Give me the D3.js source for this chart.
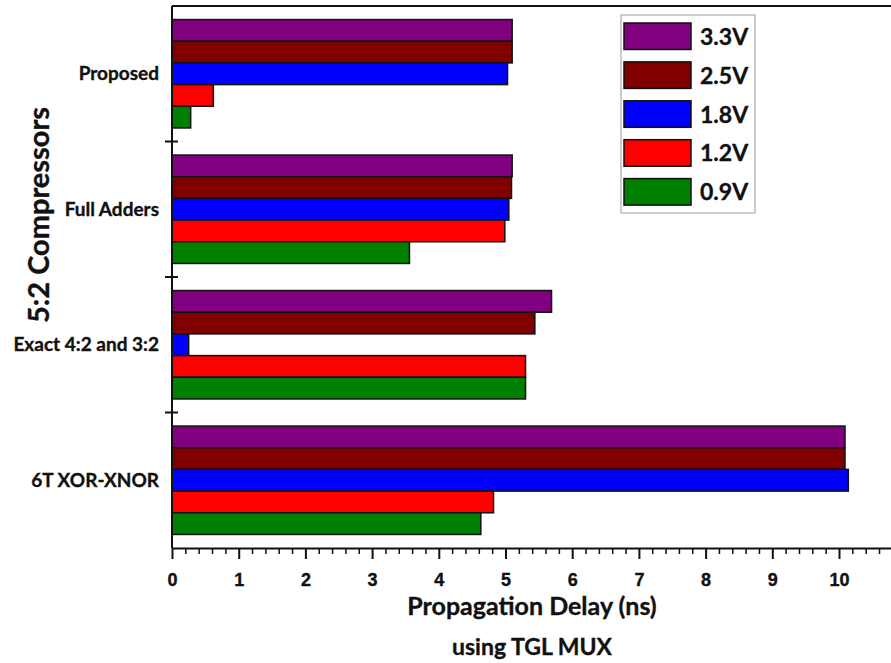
<!DOCTYPE html>
<html>
<head>
<meta charset="utf-8">
<script src="https://cdn.jsdelivr.net/npm/d3@7"></script>
<style>
  body { margin: 0; background: #fff; }
  svg { display: block; font-family: Lato, "Open Sans", sans-serif; font-weight: bold; }
  text { stroke: #111; stroke-width: 0.35px; }
</style>
</head>
<body>
<script>
const width = 891;
const height = 663;

const categories = ['Proposed', 'Full Adders', 'Exact 4:2 and 3:2', '6T XOR-XNOR'];
const voltages = ['3.3V', '2.5V', '1.8V', '1.2V', '0.9V'];
const colors = ['#800080', '#800000', '#0000ff', '#ff0000', '#008000'];

// delay in ns, one array per voltage, in category order
const v33 = [5.10, 5.10, 5.69, 10.09];
const v25 = [5.10, 5.09, 5.44, 10.09];
const v18 = [5.03, 5.05, 0.25, 10.14];
const v12 = [0.62, 4.99, 5.30, 4.82];
const v09 = [0.28, 3.56, 5.30, 4.63];
const series = [v33, v25, v18, v12, v09];

const xTicks = [0, 1, 2, 3, 4, 5, 6, 7, 8, 9, 10];

const plotLeft = 172;
const plotTop = 6;
const plotBottom = 548;

function init() {
  const svg = d3.select('body')
    .append('svg')
    .attr('width', width)
    .attr('height', height);

  const x = d3.scaleLinear()
    .domain([0, 11])
    .range([plotLeft, plotLeft + 11 * 66.7]);

  const y = d3.scaleBand()
    .domain(categories)
    .range([plotTop, plotBottom])
    .paddingInner(0.2)
    .paddingOuter(0.1);

  const yInner = d3.scaleBand()
    .domain(voltages)
    .range([0, y.bandwidth()]);

  // bars
  const groups = svg.append('g')
    .selectAll('g')
    .data(categories)
    .join('g')
    .attr('transform', d => `translate(0, ${y(d)})`);

  groups.selectAll('rect')
    .data((c, ci) => voltages.map((v, vi) => ({ v, vi, value: series[vi][ci] })))
    .join('rect')
    .attr('x', x(0))
    .attr('y', d => yInner(d.v))
    .attr('width', d => x(d.value) - x(0))
    .attr('height', yInner.bandwidth())
    .attr('fill', d => colors[d.vi])
    .attr('stroke', '#111')
    .attr('stroke-width', 1.5);

  // top frame line
  svg.append('line')
    .attr('x1', plotLeft)
    .attr('x2', width)
    .attr('y1', plotTop)
    .attr('y2', plotTop)
    .attr('stroke', '#111')
    .attr('stroke-width', 2);

  // x axis: minor ticks then major
  const minor = d3.range(0, 10.81, 0.2).filter(t => Math.abs(t - Math.round(t)) > 1e-6);
  svg.append('g')
    .attr('transform', `translate(0, ${plotBottom})`)
    .call(d3.axisBottom(x).tickValues(minor).tickSize(6).tickFormat(''))
    .call(g => g.select('.domain').remove())
    .selectAll('line').attr('stroke', '#111').attr('stroke-width', 1.5);

  const xAxis = svg.append('g')
    .attr('transform', `translate(0, ${plotBottom})`)
    .call(d3.axisBottom(x).tickValues(xTicks).tickSize(11).tickSizeOuter(0).tickFormat(d3.format('d')));
  xAxis.select('.domain').attr('stroke', '#111').attr('stroke-width', 2);
  xAxis.selectAll('.tick line').attr('stroke', '#111').attr('stroke-width', 2);
  xAxis.selectAll('text')
    .attr('y', 25)
    .attr('fill', '#111')
    .style('font-size', '18px')
    .style('font-weight', 'bold');

  // y axis with ticks at band boundaries
  const yAxis = svg.append('g')
    .attr('transform', `translate(${plotLeft}, 0)`);
  yAxis.append('line')
    .attr('x1', 0).attr('x2', 0)
    .attr('y1', plotTop).attr('y2', plotBottom)
    .attr('stroke', '#111')
    .attr('stroke-width', 2);

  const step = y.step();
  const bounds = categories.slice(1).map(c => y(c) - step * y.paddingInner() / 2);
  yAxis.selectAll('.ytick')
    .data(bounds)
    .join('line')
    .attr('x1', -7).attr('x2', 6)
    .attr('y1', d => d).attr('y2', d => d)
    .attr('stroke', '#111')
    .attr('stroke-width', 2);

  yAxis.selectAll('.ylabel')
    .data(categories)
    .join('text')
    .attr('x', -13)
    .attr('y', d => y(d) + y.bandwidth() / 2)
    .attr('dy', '0.35em')
    .attr('text-anchor', 'end')
    .attr('fill', '#111')
    .style('font-size', '19px')
    .text(d => d);

  // titles
  svg.append('text')
    .attr('x', 532)
    .attr('y', 615)
    .attr('text-anchor', 'middle')
    .attr('fill', '#111')
    .style('font-size', '25px')
    .text('Propagation Delay (ns)');

  svg.append('text')
    .attr('x', 532)
    .attr('y', 655)
    .attr('text-anchor', 'middle')
    .attr('fill', '#111')
    .style('font-size', '23px')
    .text('using TGL MUX');

  svg.append('text')
    .attr('transform', 'translate(49, 215) rotate(-90)')
    .attr('text-anchor', 'middle')
    .attr('fill', '#111')
    .style('font-size', '29px')
    .text('5:2 Compressors');

  // legend
  const legend = svg.append('g')
    .attr('transform', 'translate(621, 15)');
  legend.append('rect')
    .attr('width', 134)
    .attr('height', 198)
    .attr('fill', '#fff')
    .attr('stroke', '#999')
    .attr('stroke-width', 1);

  const items = legend.selectAll('.item')
    .data(voltages)
    .join('g')
    .attr('transform', (d, i) => `translate(3, ${8 + i * 38.9})`);
  items.append('rect')
    .attr('width', 67)
    .attr('height', 26.5)
    .attr('fill', (d, i) => colors[i])
    .attr('stroke', '#111')
    .attr('stroke-width', 1.5);
  items.append('text')
    .attr('x', 76)
    .attr('y', 13.5)
    .attr('dy', '0.36em')
    .attr('fill', '#111')
    .style('font-size', '23px')
    .text(d => d);
}

init();
</script>
</body>
</html>
